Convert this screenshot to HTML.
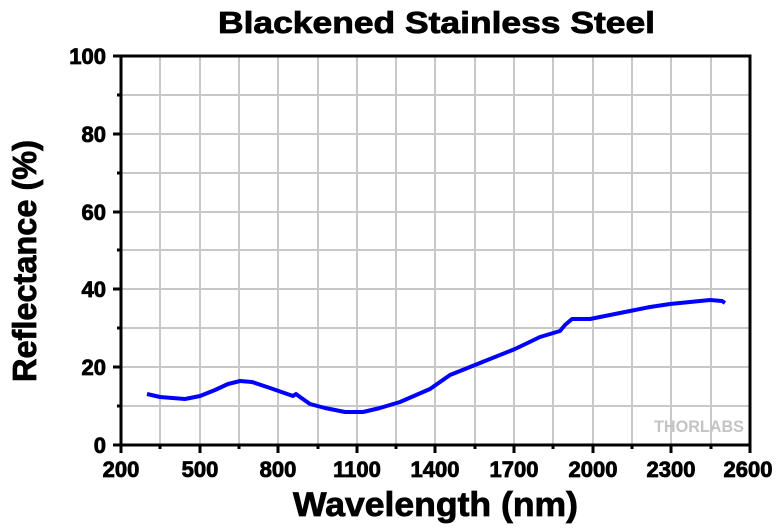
<!DOCTYPE html>
<html><head><style>
body{margin:0;background:#fff;}
svg text{font-family:"Liberation Sans",Arial,sans-serif;font-weight:bold;fill:#000;}
.b{stroke:#000;stroke-width:0.8px;}
</style></head><body>
<svg width="780" height="527" viewBox="0 0 780 527" xmlns="http://www.w3.org/2000/svg">
<rect width="780" height="527" fill="#fff"/>
<g stroke="#c8c8c8" stroke-width="2">
<line x1="160" y1="56" x2="160" y2="445"/><line x1="200" y1="56" x2="200" y2="445"/>
<line x1="239" y1="56" x2="239" y2="445"/><line x1="278" y1="56" x2="278" y2="445"/>
<line x1="318" y1="56" x2="318" y2="445"/><line x1="357" y1="56" x2="357" y2="445"/>
<line x1="396" y1="56" x2="396" y2="445"/><line x1="435" y1="56" x2="435" y2="445"/>
<line x1="475" y1="56" x2="475" y2="445"/><line x1="514" y1="56" x2="514" y2="445"/>
<line x1="553" y1="56" x2="553" y2="445"/><line x1="593" y1="56" x2="593" y2="445"/>
<line x1="632" y1="56" x2="632" y2="445"/><line x1="671" y1="56" x2="671" y2="445"/>
<line x1="711" y1="56" x2="711" y2="445"/>
<line x1="121" y1="95" x2="750" y2="95"/><line x1="121" y1="134" x2="750" y2="134"/>
<line x1="121" y1="173" x2="750" y2="173"/><line x1="121" y1="212" x2="750" y2="212"/>
<line x1="121" y1="250" x2="750" y2="250"/><line x1="121" y1="289" x2="750" y2="289"/>
<line x1="121" y1="328" x2="750" y2="328"/><line x1="121" y1="367" x2="750" y2="367"/>
<line x1="121" y1="406" x2="750" y2="406"/>
</g>
<text x="654" y="432" font-size="17" style="fill:#c4c4c4" textLength="90" lengthAdjust="spacingAndGlyphs">THORLABS</text>
<polyline fill="none" stroke="#0000ff" stroke-width="4" stroke-linejoin="round" points="147,394 160,397 185,399 200,396 215,390 228,384 240,381 252,382 270,388 293,396 296,394 300,397 310,404 325,408 345,412 363,412 380,408 400,402 430,389 450,375 480,363 515,349 540,337 560,331 565,325 572,319 590,319 610,315 630,311 650,307 670,304 690,302 710,300 722,301 725,303"/>
<rect x="121" y="56" width="629" height="389" fill="none" stroke="#000" stroke-width="3"/>
<g stroke="#000" stroke-width="3">
<line x1="113" y1="56" x2="121" y2="56"/><line x1="113" y1="134" x2="121" y2="134"/><line x1="113" y1="212" x2="121" y2="212"/><line x1="113" y1="289" x2="121" y2="289"/><line x1="113" y1="367" x2="121" y2="367"/><line x1="113" y1="445" x2="121" y2="445"/>
<line x1="117" y1="95" x2="121" y2="95"/><line x1="117" y1="173" x2="121" y2="173"/><line x1="117" y1="250" x2="121" y2="250"/><line x1="117" y1="328" x2="121" y2="328"/><line x1="117" y1="406" x2="121" y2="406"/>
<line x1="121" y1="445" x2="121" y2="453"/><line x1="200" y1="445" x2="200" y2="453"/><line x1="278" y1="445" x2="278" y2="453"/><line x1="357" y1="445" x2="357" y2="453"/><line x1="435" y1="445" x2="435" y2="453"/><line x1="514" y1="445" x2="514" y2="453"/><line x1="593" y1="445" x2="593" y2="453"/><line x1="671" y1="445" x2="671" y2="453"/><line x1="750" y1="445" x2="750" y2="453"/>
<line x1="160" y1="445" x2="160" y2="449"/><line x1="239" y1="445" x2="239" y2="449"/><line x1="318" y1="445" x2="318" y2="449"/><line x1="396" y1="445" x2="396" y2="449"/><line x1="475" y1="445" x2="475" y2="449"/><line x1="553" y1="445" x2="553" y2="449"/><line x1="632" y1="445" x2="632" y2="449"/><line x1="711" y1="445" x2="711" y2="449"/>
</g>
<g font-size="22" text-anchor="end" class="b">
<text x="106" y="64">100</text><text x="106" y="142">80</text><text x="106" y="220">60</text><text x="106" y="297">40</text><text x="106" y="375">20</text><text x="106" y="453">0</text>
</g>
<g font-size="22" text-anchor="middle" class="b">
<text x="121" y="477">200</text><text x="200" y="477">500</text><text x="278" y="477">800</text><text x="357" y="477">1100</text><text x="435" y="477">1400</text><text x="514" y="477">1700</text><text x="593" y="477">2000</text><text x="671" y="477">2300</text><text x="748" y="477">2600</text>
</g>
<text class="b" x="293" y="516" font-size="34" textLength="285" lengthAdjust="spacingAndGlyphs">Wavelength (nm)</text>
<text class="b" x="218" y="33" font-size="31" textLength="437" lengthAdjust="spacingAndGlyphs">Blackened Stainless Steel</text>
<text class="b" transform="translate(36,382) rotate(-90)" font-size="33" textLength="242" lengthAdjust="spacingAndGlyphs">Reflectance (%)</text>
</svg>
</body></html>
